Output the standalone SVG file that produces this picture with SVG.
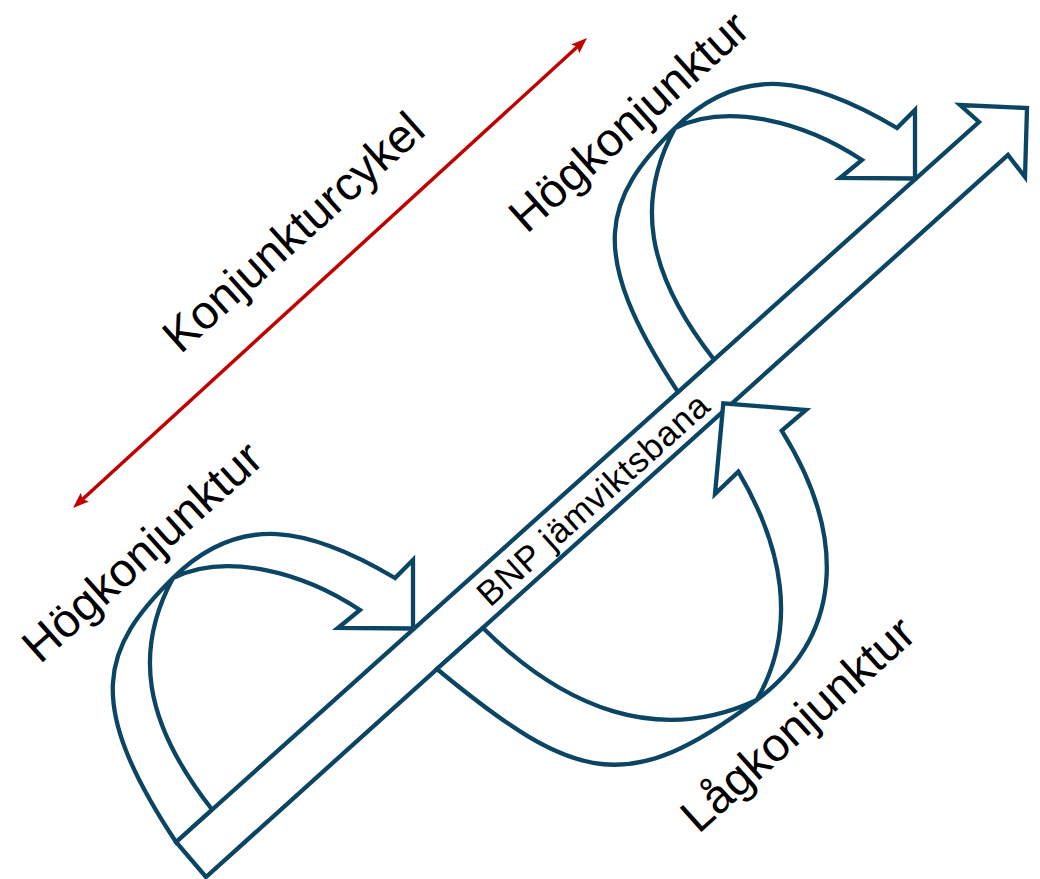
<svg xmlns="http://www.w3.org/2000/svg" xmlns:xlink="http://www.w3.org/1999/xlink" width="1040" height="879" viewBox="0 0 1040 879">
<defs>
<style>
.shape{fill:#fff;stroke:#0b4564;stroke-width:4.3;stroke-linejoin:miter;stroke-miterlimit:10}
.lbl{font-family:"Liberation Sans",Arial,sans-serif;font-size:47px;fill:#000}
.bnp{font-family:"Liberation Sans",Arial,sans-serif;font-size:35px;fill:#000}
.red{stroke:#c00000;stroke-width:3.5;fill:none}
</style>
<marker id="rh" viewBox="0 0 16 12" refX="3" refY="6" markerWidth="16" markerHeight="12" markerUnits="userSpaceOnUse" orient="auto-start-reverse">
<path d="M0,0 L16,6 L0,12 L3,6 Z" fill="#c00000"/>
</marker>
<path id="curveHigh" d="M176,842 C82.5,700.9 102.3,647.7 173,578 C240,512 309,527 395,578 L413,560 L413,628.5 L338,628 L360,610 C302,571.5 225,552 173,578 C134,650 142.6,721 212,809.5 Z"/>
</defs>
<rect width="1040" height="879" fill="#fff"/>
<g id="body-arrow">
<polygon class="shape" points="176,842 979,122 960,105 1027,108 1025,177 1008,155 206,877"/>
<text class="bnp" transform="translate(490,608) rotate(-41.9)" textLength="298" lengthAdjust="spacing">BNP jämviktsbana</text>
</g>
<g id="arrow-high-left">
<use xlink:href="#curveHigh" href="#curveHigh" class="shape"/>
</g>
<g id="arrow-high-right">
<use xlink:href="#curveHigh" href="#curveHigh" class="shape" transform="translate(502,-450)"/>
</g>
<g id="arrow-low">
<path class="shape" d="M437,669 C577,785 628.7,796 756.7,700 C848.7,631 842.7,528.5 781.7,430.7 L806,410 L723.3,403.3 L715,494 L738.3,471.7 C781.7,544.8 799.2,626 756.7,700 C657.7,746.2 563.3,707.6 483,628 Z"/>
</g>
<g id="connectors">
<line class="red" x1="82.6" y1="499.2" x2="577.4" y2="46.8" marker-start="url(#rh)" marker-end="url(#rh)"/>
</g>
<g id="label-cycle">
<text class="lbl" text-anchor="middle" transform="translate(304,244) rotate(-41.9)">Konjunkturcykel</text>
</g>
<g id="label-high-top">
<text class="lbl" text-anchor="middle" transform="translate(639.5,133.4) rotate(-41.9)">Högkonjunktur</text>
</g>
<g id="label-high-left">
<text class="lbl" text-anchor="middle" transform="translate(152.8,563.5) rotate(-41.9)">Högkonjunktur</text>
</g>
<g id="label-low">
<text class="lbl" text-anchor="middle" transform="translate(808.4,735.8) rotate(-41.9)">Lågkonjunktur</text>
</g>
</svg>
